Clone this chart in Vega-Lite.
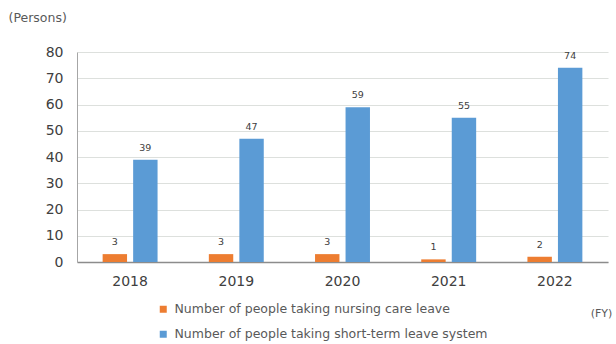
{
  "$schema": "https://vega.github.io/schema/vega-lite/v6.json",
  "width": 531,
  "height": 210,
  "autosize": {"type": "none"},
  "padding": {"left": 77, "top": 52, "right": 8, "bottom": 82},
  "background": "white",
  "config": {
    "view": {"stroke": null},
    "font": "DejaVu Sans"
  },
  "data": {
    "values": [
      {"year": "2018", "series": "Number of people taking nursing care leave", "value": 3},
      {"year": "2018", "series": "Number of people taking short-term leave system", "value": 39},
      {"year": "2019", "series": "Number of people taking nursing care leave", "value": 3},
      {"year": "2019", "series": "Number of people taking short-term leave system", "value": 47},
      {"year": "2020", "series": "Number of people taking nursing care leave", "value": 3},
      {"year": "2020", "series": "Number of people taking short-term leave system", "value": 59},
      {"year": "2021", "series": "Number of people taking nursing care leave", "value": 1},
      {"year": "2021", "series": "Number of people taking short-term leave system", "value": 55},
      {"year": "2022", "series": "Number of people taking nursing care leave", "value": 2},
      {"year": "2022", "series": "Number of people taking short-term leave system", "value": 74}
    ]
  },
  "encoding": {
    "x": {
      "field": "year",
      "type": "nominal",
      "scale": {"paddingInner": 0, "paddingOuter": 0},
      "axis": {
        "title": "(FY)",
        "titleX": 524,
        "titleY": 51,
        "titleAlign": "center",
        "titleBaseline": "middle",
        "titleFontSize": 11,
        "titleFontWeight": "normal",
        "titleColor": "#595959",
        "labelAngle": 0,
        "labelFontSize": 14,
        "labelColor": "#404040",
        "labelPadding": 12,
        "ticks": false,
        "domainColor": "#8c8c8c",
        "domainWidth": 1.5,
        "grid": false
      }
    },
    "xOffset": {
      "field": "series",
      "type": "nominal",
      "scale": {
        "domain": ["Number of people taking nursing care leave", "Number of people taking short-term leave system"],
        "paddingInner": 0.2,
        "paddingOuter": 0.84
      }
    },
    "y": {
      "field": "value",
      "type": "quantitative",
      "scale": {"domain": [0, 80], "nice": false},
      "axis": {
        "title": "(Persons)",
        "titleAngle": 0,
        "titleX": -69,
        "titleY": -35,
        "titleAlign": "left",
        "titleBaseline": "middle",
        "titleFontSize": 12.5,
        "titleFontWeight": "normal",
        "titleColor": "#595959",
        "values": [0, 10, 20, 30, 40, 50, 60, 70, 80],
        "labelFontSize": 14,
        "labelColor": "#404040",
        "labelPadding": 14,
        "ticks": false,
        "domainColor": "#a6a6a6",
        "gridColor": "#dde0dd",
        "gridWidth": 1.2
      }
    }
  },
  "layer": [
    {
      "mark": {"type": "bar"},
      "encoding": {
        "color": {
          "field": "series",
          "type": "nominal",
          "scale": {
            "domain": ["Number of people taking nursing care leave", "Number of people taking short-term leave system"],
            "range": ["#ED7D31", "#5B9BD5"]
          },
          "legend": {
            "title": null,
            "orient": "none",
            "legendX": 80,
            "legendY": 251,
            "direction": "vertical",
            "symbolType": "square",
            "symbolSize": 49,
            "symbolStrokeWidth": 0,
            "labelFontSize": 12.5,
            "labelLimit": 0,
            "labelColor": "#595959",
            "labelOffset": 5,
            "rowPadding": 12
          }
        }
      }
    },
    {
      "mark": {"type": "text", "baseline": "bottom", "dy": -7, "fontSize": 9.5, "color": "#404040"},
      "encoding": {
        "text": {"field": "value", "type": "quantitative"}
      }
    }
  ]
}
